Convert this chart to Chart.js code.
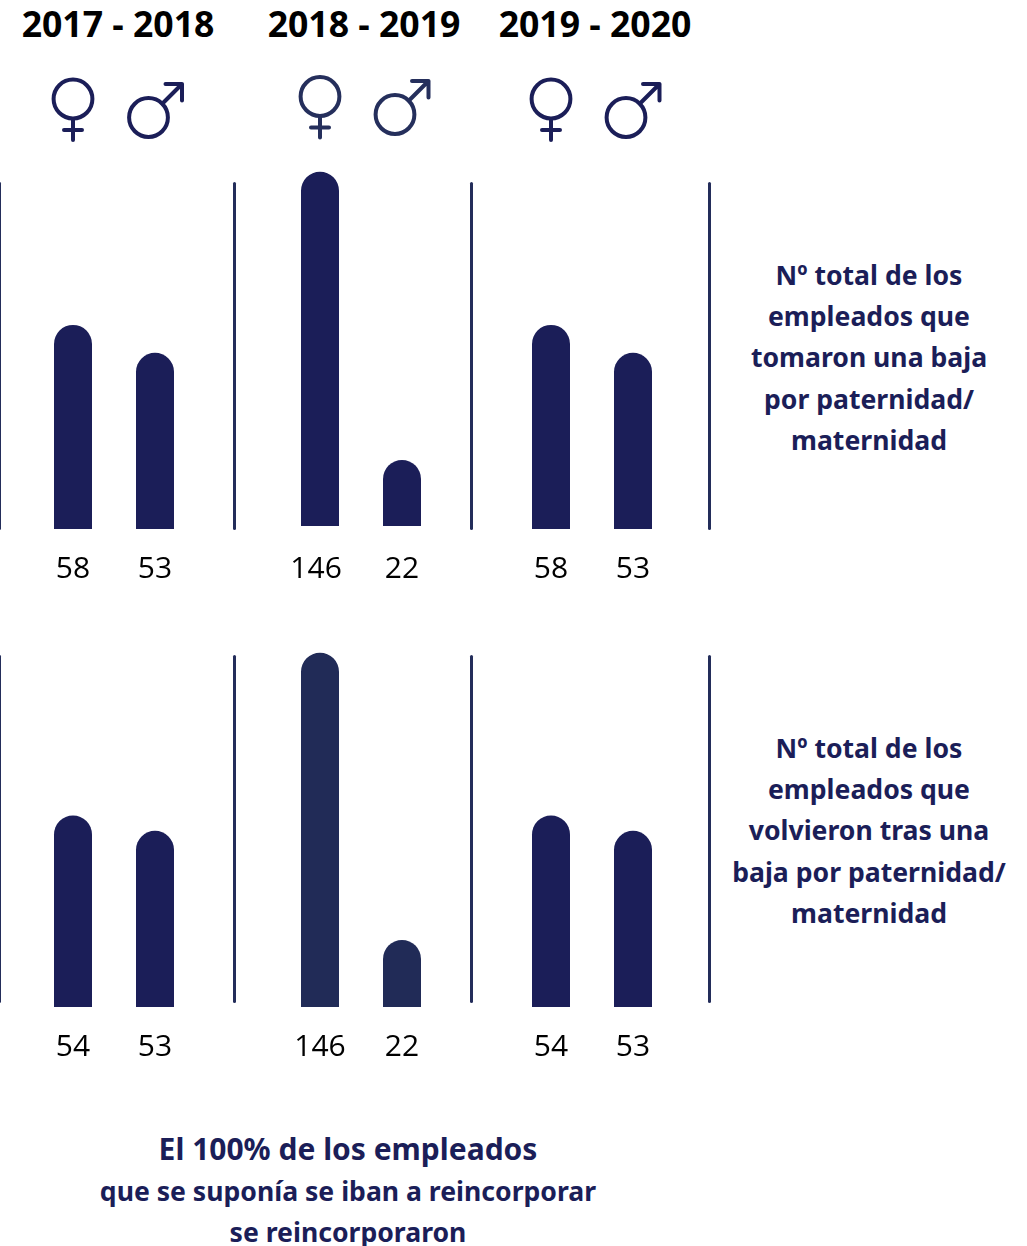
<!DOCTYPE html>
<html lang="es">
<head>
<meta charset="utf-8">
<title>Bajas por paternidad/maternidad</title>
<script src="https://cdn.jsdelivr.net/npm/chart.js@4"></script>
<style>
  html, body { margin: 0; background: #fff; }
  body { position: relative; width: 1027px; height: 1246px; overflow: hidden; }
  .chart, .sep, .year, .note, svg.icons { position: absolute; }
  .year { top: 1px; width: 240px; text-align: center; font: bold 35.6px/46px "Open Sans", sans-serif; color: #000; }
  .note { text-align: center; font: bold 26.6px/41.2px "Noto Sans", sans-serif; color: #1b1e58; white-space: nowrap; }
  .note .big { font-size: 30px; }
  .sep { width: 3px; height: 348px; background: #232d5a; border-radius: 1.5px; }
  svg.icons { left: 0; top: 0; }
  svg.icons * { fill: none; stroke-width: 4; stroke-linecap: round; stroke-linejoin: round; }
</style>
</head>
<body>
<svg class="icons" width="1027" height="160">
  <defs>
    <g id="venus"><circle cx="0" cy="0" r="19.4"/><path d="M0 20V41M-9 31H9"/></g>
    <g id="mars"><circle cx="0" cy="0" r="19.4"/><path d="M14 -14L33.5 -33.5M17 -33.5H33.5V-17"/></g>
  </defs>
  <use href="#venus" x="73" y="99" stroke="#1b1e58"/>
  <use href="#mars" x="148.5" y="117.5" stroke="#1b1e58"/>
  <use href="#venus" x="320" y="96.5" stroke="#252f5c"/>
  <use href="#mars" x="395" y="114.5" stroke="#252f5c"/>
  <use href="#venus" x="551" y="99" stroke="#1b1e58"/>
  <use href="#mars" x="626" y="117.5" stroke="#1b1e58"/>
</svg>
<script>
const periods = ['2017 - 2018', '2018 - 2019', '2019 - 2020'];
const categories = ['Mujeres', 'Hombres'];

// numbers printed under the bars
const tomaronValues = [[58, 53], [146, 22], [58, 53]];
const volvieronValues = [[54, 53], [146, 22], [54, 53]];

// the bars in the picture are not to scale with their labels,
// so these are the heights read off it (tallest bar = 146)
const tomaronBars = [[84.1, 72.6], [146, 27.2], [84.1, 72.6]];
const volvieronBars = [[78.9, 72.6], [146, 27.6], [78.9, 72.6]];

const tomaronNote = ['Nº total de los', 'empleados que', 'tomaron una baja', 'por paternidad/', 'maternidad'];
const volvieronNote = ['Nº total de los', 'empleados que', 'volvieron tras una', 'baja por paternidad/', 'maternidad'];
const footerNote = ['<span class="big">El 100% de los empleados</span>', 'que se suponía se iban a reincorporar', 'se reincorporaron'];

const yearCenters = [118, 364, 595];
const groupLefts = [32, 279, 510];
const separatorLefts = [-2, 233, 470, 708];

function addBox(className, left, top, text) {
  const el = document.createElement('div');
  el.className = className;
  el.style.left = left + 'px';
  el.style.top = top + 'px';
  if (text) el.innerHTML = text;
  document.body.appendChild(el);
  return el;
}

function addNote(lines, center, top) {
  const el = addBox('note', center, top, lines.join('<br>'));
  el.style.transform = 'translateX(-50%)';
}

function drawGroup(left, baseline, labelGap, values, bars, color, shift146) {
  const box = addBox('chart', left, baseline - 364, '');
  box.style.width = '164px';
  box.style.height = (364 + 70) + 'px';
  const canvas = document.createElement('canvas');
  box.appendChild(canvas);

  new Chart(canvas, {
    type: 'bar',
    data: {
      labels: categories,
      datasets: [{
        data: bars,
        backgroundColor: color,
        barThickness: 38,
        inflateAmount: 0,
        borderRadius: { topLeft: 19, topRight: 19, bottomLeft: 0, bottomRight: 0 },
        borderSkipped: false
      }]
    },
    options: {
      responsive: true,
      maintainAspectRatio: false,
      animation: false,
      layout: { padding: 0 },
      plugins: { legend: { display: false }, tooltip: { enabled: false } },
      scales: {
        y: { display: false, min: 0, max: 150 },
        x: {
          border: { display: false },
          grid: { display: false, drawTicks: false },
          // keep the plot area the same size whatever the labels measure
          afterFit: (scale) => {
            scale.paddingLeft = 0;
            scale.paddingRight = 0;
            scale.height = 70;
          },
          ticks: {
            padding: labelGap,
            color: '#000',
            font: { family: '"Open Sans"', size: 30 },
            maxRotation: 0,
            callback: (v, i) => (values[i] === 146 && shift146 ? values[i] + '\u00a0' : String(values[i]))
          }
        }
      }
    }
  });
}

periods.forEach((p, i) => {
  addBox('year', yearCenters[i] - 120, 0, p);
  drawGroup(groupLefts[i], i === 1 ? 525.5 : 529, i === 1 ? 25 : 22, tomaronValues[i], tomaronBars[i], '#1b1e58', true);
  drawGroup(groupLefts[i], 1007, 22, volvieronValues[i], volvieronBars[i], i === 1 ? '#212b57' : '#1b1e58', false);
});

separatorLefts.forEach((x) => {
  addBox('sep', x, 182, '');
  addBox('sep', x, 655, '');
});

addNote(tomaronNote, 869, 255);
addNote(volvieronNote, 869, 728);
addNote(footerNote, 348, 1128);
</script>
</body>
</html>
